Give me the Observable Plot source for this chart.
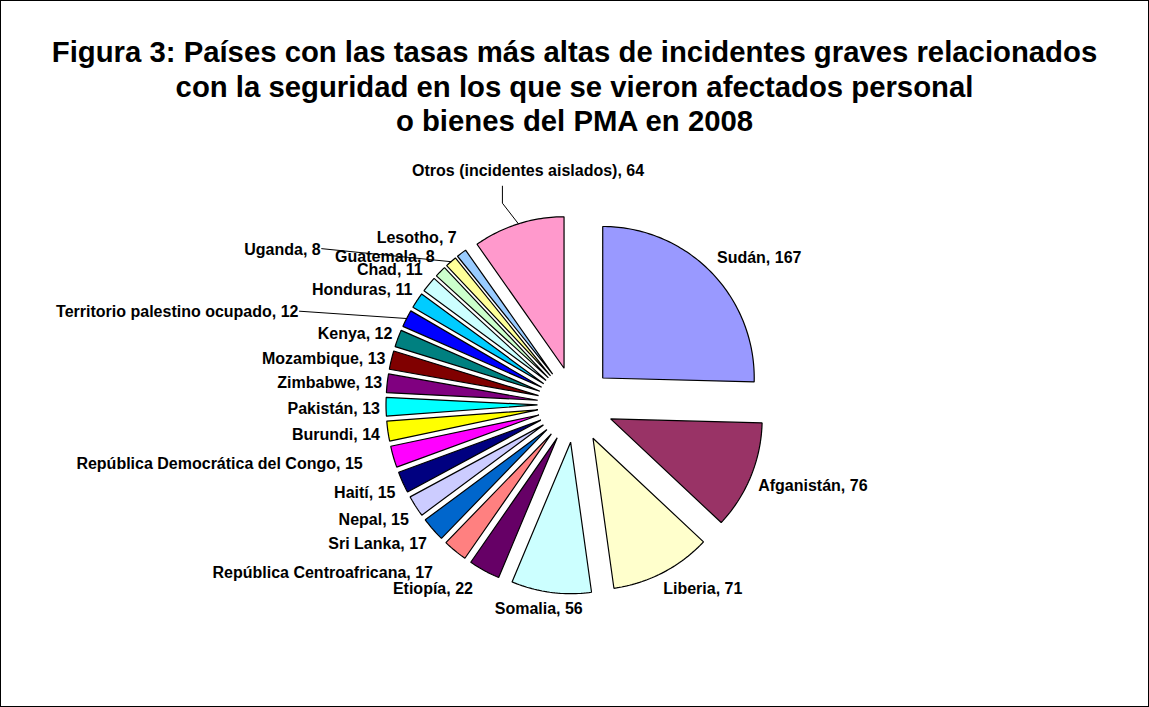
<!DOCTYPE html>
<html>
<head>
<meta charset="utf-8">
<script src="https://cdn.jsdelivr.net/npm/d3@7"></script>
<script src="https://cdn.jsdelivr.net/npm/@observablehq/plot@0.6"></script>
<style>
  html, body { margin: 0; padding: 0; background: #fff; }
  #chart {
    position: relative; width: 1149px; height: 707px; box-sizing: border-box;
    border: 1px solid #000; background: #fff; overflow: hidden;
    font-family: Arial, "Liberation Sans", sans-serif;
  }
  #title {
    margin: 0; padding-top: 34px; height: 104px; text-align: center;
    font-weight: bold; font-size: 29.3px; line-height: 34.5px; color: #000;
  }
  #plot svg { display: block; }
</style>
</head>
<body>
<div id="chart">
  <div id="title">Figura 3: Países con las tasas más altas de incidentes graves relacionados<br>con la seguridad en los que se vieron afectados personal<br>o bienes del PMA en 2008</div>
  <div id="plot"></div>
</div>
<script>
// ---- data ----
const paises = [
  "Sudán", "Afganistán", "Liberia", "Somalia", "Etiopía",
  "República Centroafricana", "Sri Lanka", "Nepal", "Haití",
  "República Democrática del Congo", "Burundi", "Pakistán", "Zimbabwe",
  "Mozambique", "Kenya", "Territorio palestino ocupado", "Honduras", "Chad",
  "Guatemala", "Uganda", "Lesotho", "Otros (incidentes aislados)"
];
const incidentes = [167, 76, 71, 56, 22, 17, 17, 15, 15, 15, 14, 13, 13, 13, 12, 12, 11, 11, 8, 8, 7, 64];
const colores = [
  "#9999FF", "#993366", "#FFFFCC", "#CCFFFF", "#660066", "#FF8080", "#0066CC",
  "#CCCCFF", "#000080", "#FF00FF", "#FFFF00", "#00FFFF", "#800080", "#800000",
  "#008080", "#0000FF", "#00CCFF", "#CCFFFF", "#CCFFCC", "#FFFF99", "#99CCFF", "#FF99CC"
];
// labels dragged by hand in the original (pixel nudges from the automatic position)
const labelNudge = {
  "Territorio palestino ocupado": [-101, 5.5],
  "Uganda": [-125, 3],
  "Otros (incidentes aislados)": [82, -36],
  "República Democrática del Congo": [-23, 0],
  "República Centroafricana": [-17, 6.5],
  "Etiopía": [-9, 2],
  "Kenya": [2, 5],
  "Mozambique": [2, 4.5],
  "Zimbabwe": [3, 3],
  "Honduras": [2, 3],
  "Pakistán": [2, 1.5]
};

// ---- layout ----
const W = 1147, H = 567;
const CX = 574, CY = 265;      // pie centre inside the svg (px)
const R = 151.5;               // radius (px)
const EXPLODE = 38;            // explosion distance (px)
const GAP = 8;                 // label distance beyond slice (px)
const FONT = "bold 16px Arial, 'Liberation Sans', sans-serif";
const LH = 18;

const ctx = document.createElement("canvas").getContext("2d");
ctx.font = FONT;
const clamp = v => Math.max(-1, Math.min(1, v));

const arcs = d3.pie().sort(null).value(d => d)(incidentes);

const slicePts = [];
const labels = [];
const leaders = [];
arcs.forEach((a, i) => {
  const name = paises[i];
  const am = (a.startAngle + a.endAngle) / 2;
  const s = Math.sin(am), c = Math.cos(am);
  const e = EXPLODE / R;
  const ox = e * s, oy = e * c;
  // slice polygon (unit radius data space, y up)
  slicePts.push({name, color: colores[i], x: ox, y: oy});
  const n = Math.max(2, Math.ceil((a.endAngle - a.startAngle) / (Math.PI / 180)));
  for (let k = 0; k <= n; k++) {
    const t = a.startAngle + (a.endAngle - a.startAngle) * k / n;
    slicePts.push({name, color: colores[i], x: ox + Math.sin(t), y: oy + Math.cos(t)});
  }
  // label
  const text = `${name}, ${incidentes[i]}`;
  const w = ctx.measureText(text).width;
  const rl = (R + EXPLODE + GAP) / R;
  const offX = (w / 2) * clamp(2 * s);
  const offYs = (LH / 2) * clamp(-2 * c); // screen px, down positive
  const nd = labelNudge[name] || [0, 0];
  const lx = rl * s + (offX + nd[0]) / R;
  const ly = rl * c - (offYs + nd[1]) / R;
  labels.push({text, x: lx, y: ly});
  // leader line for labels moved far away
  if (Math.hypot(nd[0], nd[1]) > 40) {
    const mx = ox + s, my = oy + c; // arc midpoint
    const boxRight = lx + (w / 2) / R;
    if (boxRight < mx - 20 / R) {
      leaders.push({name, x: boxRight + 1 / R, y: ly + 1 / R});
      leaders.push({name, x: mx, y: my});
    } else {
      const sx = mx - 16 / R;
      const bottom = ly - (LH / 2) / R;
      leaders.push({name, x: sx, y: bottom - 6 / R});
      leaders.push({name, x: sx, y: bottom - 23 / R});
      leaders.push({name, x: mx, y: my});
    }
  }
});

const chart = Plot.plot({
  width: W,
  height: H,
  margin: 0,
  x: {domain: [-CX / R, (W - CX) / R], range: [0, W], axis: null},
  y: {domain: [-(H - CY) / R, CY / R], range: [H, 0], axis: null},
  color: {type: "identity"},
  style: {background: "transparent", fontFamily: "Arial, 'Liberation Sans', sans-serif"},
  marks: [
    Plot.line(slicePts, {
      x: "x", y: "y", z: "name", fill: "color",
      stroke: "#000", strokeWidth: 1.2, curve: "linear-closed", strokeLinejoin: "miter"
    }),
    Plot.line(leaders, {x: "x", y: "y", z: "name", stroke: "#000", strokeWidth: 1}),
    Plot.text(labels, {
      x: "x", y: "y", text: "text", fill: "#000",
      fontSize: 16, fontWeight: "bold", textAnchor: "middle", lineAnchor: "middle"
    })
  ]
});
document.getElementById("plot").appendChild(chart);
</script>
</body>
</html>
